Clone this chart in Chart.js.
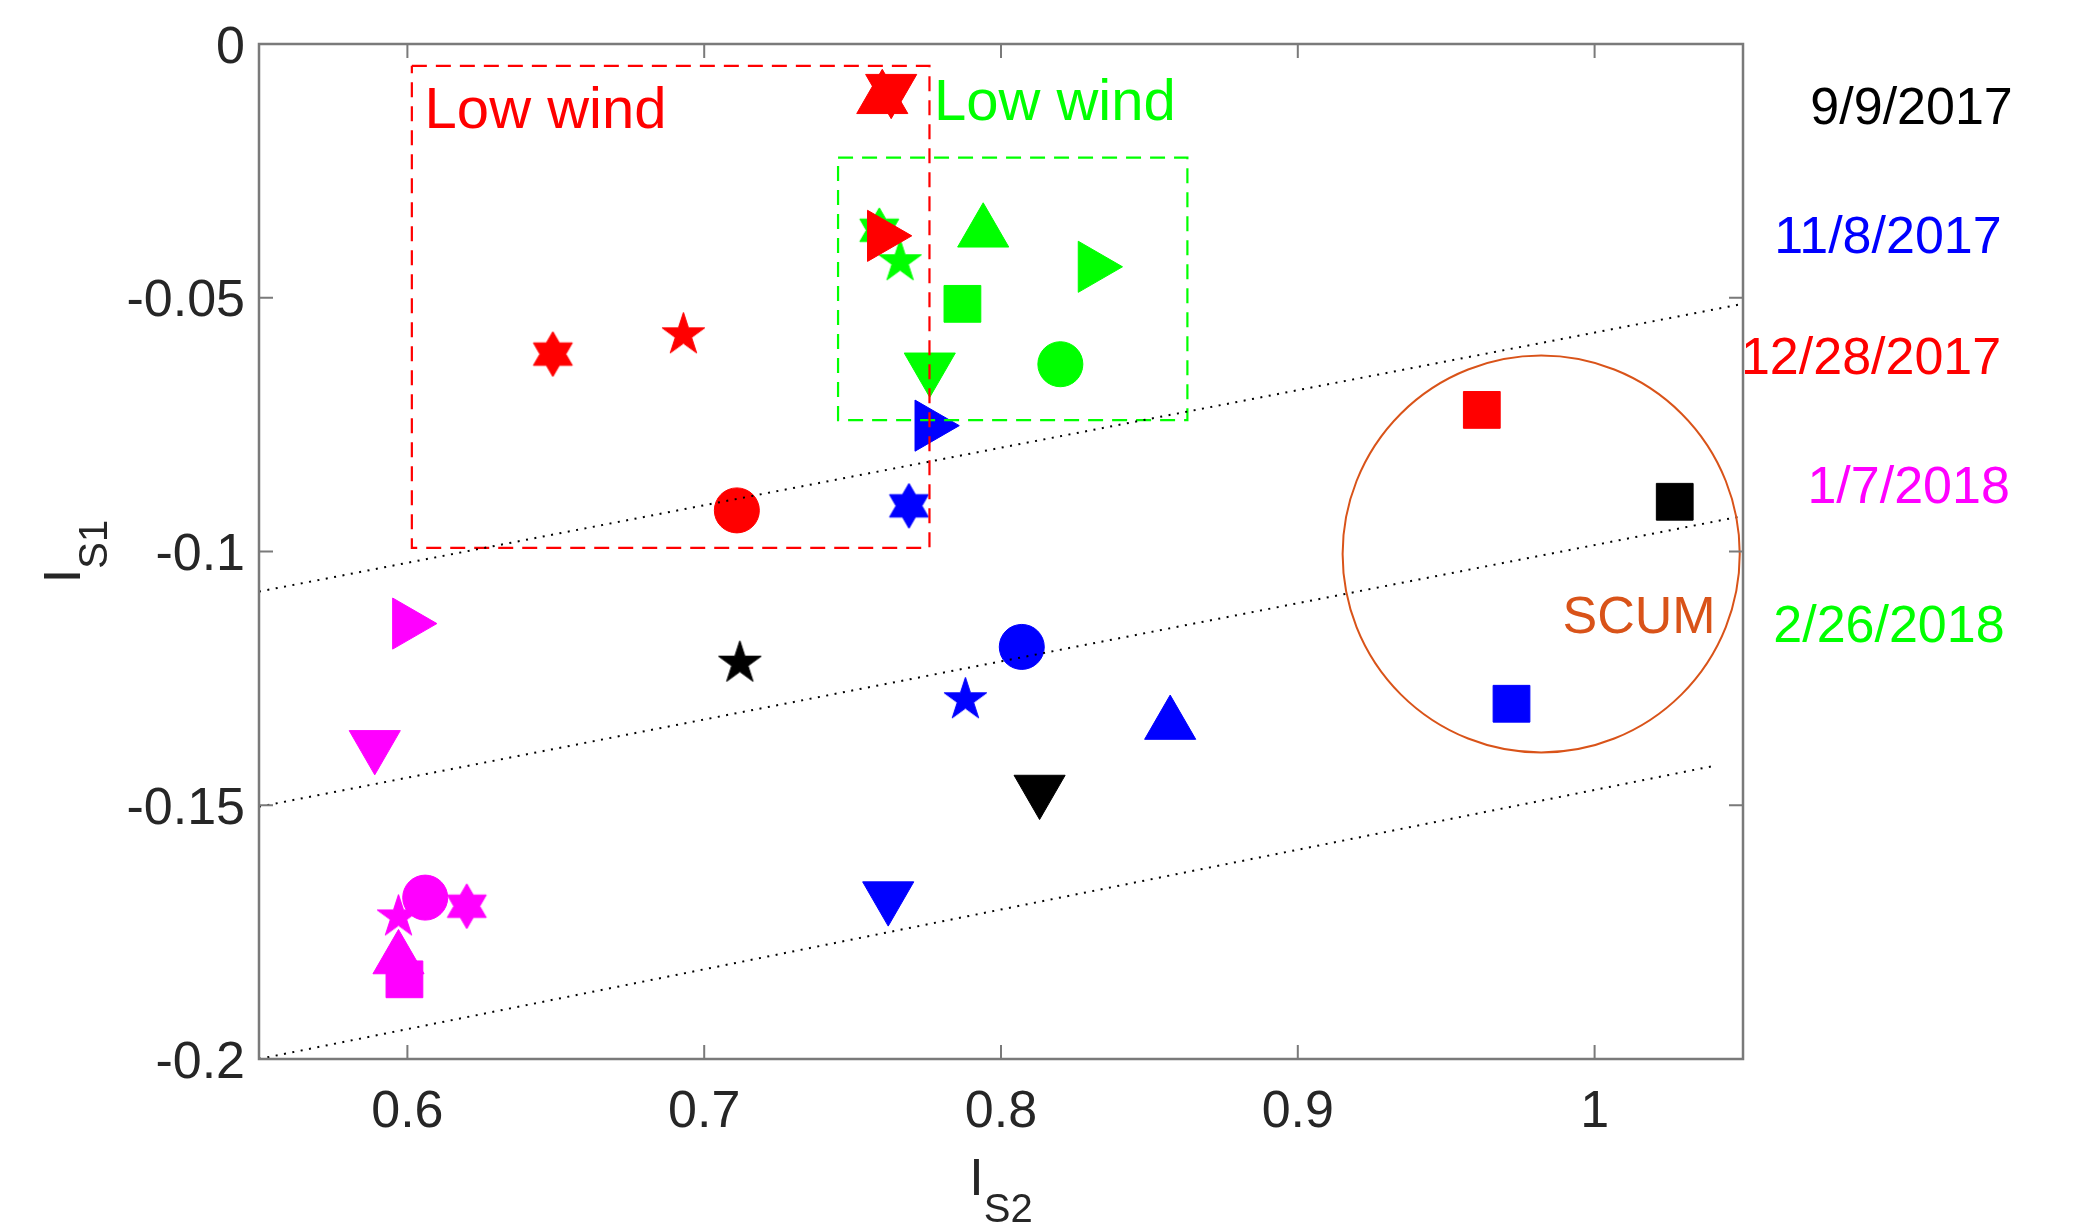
<!DOCTYPE html>
<html>
<head>
<meta charset="utf-8">
<script src="https://cdn.jsdelivr.net/npm/chart.js@4.4.1/dist/chart.umd.min.js"></script>
<style>
    html, body { margin: 0; padding: 0; background: #ffffff; }
    canvas { display: block; }
</style>
</head>
<body>
<canvas id="scatterChart" width="2098" height="1231"></canvas>
<script>
// Sampling dates (one series each)
const dateLabels = ['9/9/2017', '11/8/2017', '12/28/2017', '1/7/2018', '2/26/2018'];
const dateColors = ['#000000', '#0000ff', '#ff0000', '#ff00ff', '#00ff00'];

// 9/9/2017
const sep9Markers = ['square', 'pentagram', 'down'];
const sep9X = [1.027, 0.712, 0.813];
const sep9Y = [-0.0902, -0.122, -0.147];

// 11/8/2017
const nov8Markers = ['right', 'hexagram', 'circle', 'pentagram', 'up', 'down', 'square'];
const nov8X = [0.776, 0.769, 0.807, 0.788, 0.857, 0.762, 0.972];
const nov8Y = [-0.0752, -0.091, -0.1188, -0.1292, -0.1341, -0.168, -0.130];

// 12/28/2017
const dec28Markers = ['up', 'down', 'right', 'hexagram', 'pentagram', 'circle', 'square'];
const dec28X = [0.760, 0.763, 0.760, 0.649, 0.693, 0.711, 0.962];
const dec28Y = [-0.0108, -0.0089, -0.0378, -0.0611, -0.0573, -0.0919, -0.0721];

// 1/7/2018
const jan7Markers = ['right', 'down', 'square', 'pentagram', 'hexagram', 'circle', 'up'];
const jan7X = [0.600, 0.589, 0.599, 0.597, 0.620, 0.606, 0.597];
const jan7Y = [-0.1142, -0.1382, -0.1843, -0.172, -0.1699, -0.1682, -0.1803];

// 2/26/2018
const feb26Markers = ['up', 'right', 'square', 'circle', 'down', 'hexagram', 'pentagram'];
const feb26X = [0.794, 0.831, 0.787, 0.820, 0.776, 0.759, 0.766];
const feb26Y = [-0.0371, -0.0439, -0.0512, -0.0631, -0.0638, -0.0367, -0.0429];

// Dotted guide lines
const guideX = [0.55, 1.05];
const guideUpperY = [-0.1079, -0.0512];
const guideMiddleY = [-0.1503, -0.0930];
const guideLowerX = [0.55, 1.0406];
const guideLowerY = [-0.2, -0.1422];

// "Low wind" boxes (corners) and SCUM circle (centre, radii)
const redBoxX = [0.6015, 0.7759];
const redBoxY = [-0.0043, -0.0993];
const greenBoxX = [0.7451, 0.8628];
const greenBoxY = [-0.0224, -0.0741];
const scumCenter = [0.982, -0.1005];
const scumRadius = [0.0669, 0.0391];

// Text annotations
const noteTexts = ['Low wind', 'Low wind', 'SCUM'];
const noteColors = ['#ff0000', '#00ff00', '#d95319'];
const noteX = [0.6058, 0.7774, 0.9892];
const noteY = [-0.0166, -0.0150, -0.1160];
const dateLabelX = [1.0727, 1.0605, 1.0493, 1.0717, 1.0602];
const dateLabelY = [-0.0158, -0.0412, -0.0650, -0.0904, -0.1179];

// Axes
const xTicks = [0.6, 0.7, 0.8, 0.9, 1];
const xTickLabels = ['0.6', '0.7', '0.8', '0.9', '1'];
const yTicks = [0, -0.05, -0.1, -0.15, -0.2];
const yTickLabels = ['0', '-0.05', '-0.1', '-0.15', '-0.2'];
const xRange = [0.55, 1.05];
const yRange = [-0.2, 0];

const FONT = '"Liberation Sans", Arial, Helvetica, sans-serif';

// Star markers are not built into Chart.js, so draw them on small canvases
function starCanvas(points, outer, inner, color) {
    const size = Math.ceil(outer * 2 + 4);
    const c = document.createElement('canvas');
    c.width = size;
    c.height = size;
    const g = c.getContext('2d');
    g.translate(size / 2, size / 2);
    g.beginPath();
    for (let i = 0; i < points * 2; i++) {
        const r = i % 2 === 0 ? outer : inner;
        const a = -Math.PI / 2 + i * Math.PI / points;
        g.lineTo(r * Math.cos(a), r * Math.sin(a));
    }
    g.closePath();
    g.fillStyle = color;
    g.fill();
    g.strokeStyle = color;
    g.lineWidth = 1;
    g.stroke();
    return c;
}

const markerRadius = { square: 26, circle: 22.5, up: 29.5, down: 29.5, right: 29.5, pentagram: 23, hexagram: 23 };
const markerRotation = { up: 0, down: 180, right: 90 };

function markerStyle(name, color) {
    if (name === 'square') return 'rect';
    if (name === 'circle') return 'circle';
    if (name === 'pentagram') return starCanvas(5, 22.5, 22.5 * 0.382, color);
    if (name === 'hexagram') return starCanvas(6, 22.5, 22.5 / Math.sqrt(3), color);
    return 'triangle';
}

function markerDataset(label, xs, ys, markers, color, order) {
    return {
        label: label,
        data: xs.map((x, i) => ({ x: x, y: ys[i] })),
        pointStyle: markers.map(m => markerStyle(m, color)),
        pointRadius: markers.map(m => markerRadius[m]),
        pointRotation: markers.map(m => markerRotation[m] || 0),
        backgroundColor: color,
        borderColor: color,
        pointBackgroundColor: color,
        pointBorderColor: color,
        pointBorderWidth: 1,
        showLine: false,
        clip: false,
        order: order
    };
}

function lineDataset(xs, ys, color, width, dash) {
    return {
        data: xs.map((x, i) => ({ x: x, y: ys[i] })),
        showLine: true,
        borderColor: color,
        borderWidth: width,
        borderDash: dash,
        pointRadius: 0,
        fill: false,
        tension: 0,
        clip: false,
        order: 0
    };
}

function boxDataset(bx, by, color) {
    const xs = [bx[0], bx[1], bx[1], bx[0], bx[0]];
    const ys = [by[0], by[0], by[1], by[1], by[0]];
    return lineDataset(xs, ys, color, 2.2, [15, 9]);
}

// Axes box, inward ticks, labels, titles and text annotations
const figurePlugin = {
    id: 'figure',
    beforeDraw(chart) {
        const ctx = chart.ctx;
        ctx.save();
        ctx.fillStyle = '#ffffff';
        ctx.fillRect(0, 0, chart.width, chart.height);
        ctx.restore();
    },
    afterDatasetsDraw(chart) {
        const ctx = chart.ctx;
        const xs = chart.scales.x;
        const ys = chart.scales.y;
        const cx = xs.getPixelForValue(scumCenter[0]);
        const cy = ys.getPixelForValue(scumCenter[1]);
        const rx = xs.getPixelForValue(scumCenter[0] + scumRadius[0]) - cx;
        const ry = cy - ys.getPixelForValue(scumCenter[1] + scumRadius[1]);
        ctx.save();
        ctx.strokeStyle = '#d95319';
        ctx.lineWidth = 2;
        ctx.beginPath();
        ctx.ellipse(cx, cy, rx, ry, 0, 0, Math.PI * 2);
        ctx.stroke();
        ctx.restore();
    },
    afterDraw(chart) {
        const ctx = chart.ctx;
        const area = chart.chartArea;
        const xs = chart.scales.x;
        const ys = chart.scales.y;
        const tickLen = 14;

        ctx.save();
        ctx.strokeStyle = '#7a7a7a';
        ctx.lineWidth = 2.5;
        ctx.strokeRect(area.left, area.top, area.right - area.left, area.bottom - area.top);

        ctx.lineWidth = 2;
        ctx.beginPath();
        xTicks.forEach(v => {
            const px = xs.getPixelForValue(v);
            ctx.moveTo(px, area.bottom);
            ctx.lineTo(px, area.bottom - tickLen);
            ctx.moveTo(px, area.top);
            ctx.lineTo(px, area.top + tickLen);
        });
        yTicks.forEach(v => {
            const py = ys.getPixelForValue(v);
            ctx.moveTo(area.left, py);
            ctx.lineTo(area.left + tickLen, py);
            ctx.moveTo(area.right, py);
            ctx.lineTo(area.right - tickLen, py);
        });
        ctx.stroke();

        // tick labels
        ctx.fillStyle = '#262626';
        ctx.font = '52px ' + FONT;
        ctx.textBaseline = 'alphabetic';
        ctx.textAlign = 'center';
        xTicks.forEach((v, i) => {
            ctx.fillText(xTickLabels[i], xs.getPixelForValue(v), area.bottom + 68);
        });
        ctx.textAlign = 'right';
        yTicks.forEach((v, i) => {
            ctx.fillText(yTickLabels[i], area.left - 14, ys.getPixelForValue(v) + 18.6);
        });

        // axis titles with subscripts
        ctx.textAlign = 'left';
        ctx.font = '52px ' + FONT;
        const wI = ctx.measureText('I').width;
        ctx.font = '40px ' + FONT;
        const wSx = ctx.measureText('S2').width;
        const wSy = ctx.measureText('S1').width;

        const xMid = (area.left + area.right) / 2;
        let x0 = xMid - (wI + wSx) / 2;
        ctx.font = '52px ' + FONT;
        ctx.fillText('I', x0, area.bottom + 136);
        ctx.font = '40px ' + FONT;
        ctx.fillText('S2', x0 + wI, area.bottom + 163);

        const yMid = (area.top + area.bottom) / 2;
        ctx.save();
        ctx.translate(80, yMid);
        ctx.rotate(-Math.PI / 2);
        x0 = -(wI + wSy) / 2;
        ctx.font = '52px ' + FONT;
        ctx.fillText('I', x0, 0);
        ctx.font = '40px ' + FONT;
        ctx.fillText('S1', x0 + wI, 27);
        ctx.restore();

        // annotations
        noteTexts.forEach((t, i) => {
            ctx.font = (i < 2 ? '58px ' : '52px ') + FONT;
            ctx.fillStyle = noteColors[i];
            ctx.fillText(t, xs.getPixelForValue(noteX[i]), ys.getPixelForValue(noteY[i]));
        });
        ctx.font = '52px ' + FONT;
        dateLabels.forEach((t, i) => {
            ctx.fillStyle = dateColors[i];
            ctx.fillText(t, xs.getPixelForValue(dateLabelX[i]), ys.getPixelForValue(dateLabelY[i]));
        });
        ctx.restore();
    }
};

const datasets = [
    lineDataset(guideX, guideUpperY, '#000000', 2, [2, 6.5]),
    lineDataset(guideX, guideMiddleY, '#000000', 2, [2, 6.5]),
    lineDataset(guideLowerX, guideLowerY, '#000000', 2, [2, 6.5]),
    boxDataset(redBoxX, redBoxY, '#ff0000'),
    boxDataset(greenBoxX, greenBoxY, '#00ff00'),
    markerDataset(dateLabels[2], dec28X, dec28Y, dec28Markers, dateColors[2], 1),
    markerDataset(dateLabels[4], feb26X, feb26Y, feb26Markers, dateColors[4], 2),
    markerDataset(dateLabels[3], jan7X, jan7Y, jan7Markers, dateColors[3], 2),
    markerDataset(dateLabels[1], nov8X, nov8Y, nov8Markers, dateColors[1], 2),
    markerDataset(dateLabels[0], sep9X, sep9Y, sep9Markers, dateColors[0], 2)
];

new Chart(document.getElementById('scatterChart').getContext('2d'), {
    type: 'scatter',
    data: { datasets: datasets },
    options: {
        responsive: false,
        animation: false,
        events: [],
        layout: { padding: { left: 259, top: 44, right: 355, bottom: 172 } },
        scales: {
            x: { type: 'linear', min: xRange[0], max: xRange[1], display: false },
            y: { type: 'linear', min: yRange[0], max: yRange[1], display: false }
        },
        plugins: {
            legend: { display: false },
            tooltip: { enabled: false }
        }
    },
    plugins: [figurePlugin]
});
</script>
</body>
</html>
